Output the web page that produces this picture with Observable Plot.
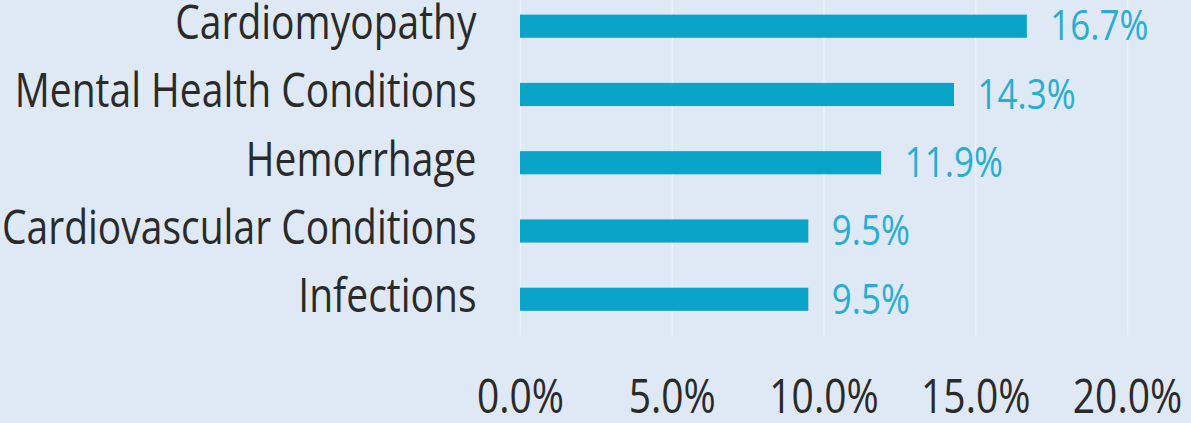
<!DOCTYPE html>
<html>
<head>
<meta charset="utf-8">
<script src="https://cdn.jsdelivr.net/npm/d3@7"></script>
<script src="https://cdn.jsdelivr.net/npm/@observablehq/plot@0.6"></script>
<style>
  html, body { margin: 0; padding: 0; background: #dee9f5; }
  #chart { height: 423px; }
  #chart svg { display: block; transform: scaleY(1.219); transform-origin: 0 0; }
</style>
</head>
<body>
<div id="chart"></div>
<script>
const categories = ["Cardiomyopathy", "Mental Health Conditions", "Hemorrhage", "Cardiovascular Conditions", "Infections"];
const values = [16.7, 14.3, 11.9, 9.5, 9.5];
const xTicks = [0, 5, 10, 15, 20];

const data = categories.map((c, i) => ({category: c, value: values[i]}));

// The reference's lettering is tall and narrow, so the chart is drawn 347px high
// and stretched vertically to 423px on the page.
const chart = Plot.plot({
  width: 1191,
  height: 347,
  marginLeft: 520,
  marginRight: 64,
  marginTop: 0,
  marginBottom: 72,
  style: {background: "#dee9f5", fontFamily: "'Open Sans', sans-serif", fontSize: "39px", color: "#2a2a2a"},
  x: {domain: [0, 20], ticks: xTicks, tickFormat: d => d.toFixed(1) + "%", label: null},
  y: {domain: categories, paddingInner: 0.652, paddingOuter: 0.2535, align: 0.371, label: null},
  marks: [
    Plot.gridX(xTicks, {stroke: "#ffffff", strokeOpacity: 0.4, strokeWidth: 1.5}),
    Plot.barX(data, {y: "category", x: "value", fill: "#0aa4c9"}),
    Plot.text(data, {y: "category", x: "value", text: d => d.value.toFixed(1) + "%", textAnchor: "start", dx: 23, fontSize: 35, fill: "#2aadd0"}),
    Plot.axisX(xTicks, {tickSize: 0, tickPadding: 36, tickFormat: d => d.toFixed(1) + "%", fill: "#2a2a2a", label: null}),
    Plot.axisY({tickSize: 0, tickPadding: 44, dy: -2.5, fill: "#2a2a2a", label: null})
  ]
});
document.getElementById("chart").appendChild(chart);
</script>
</body>
</html>
